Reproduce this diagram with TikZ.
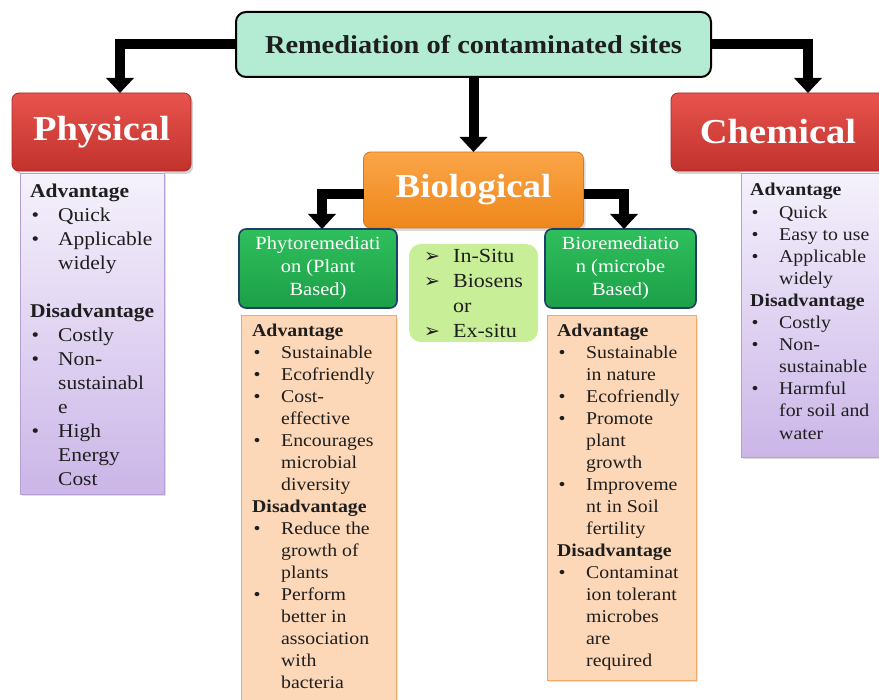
\documentclass[tikz,border=0pt]{standalone}
\usepackage{fontspec}
\setmainfont{Liberation Serif}[FakeStretch=1.1]
\newfontfamily\symfont{DejaVu Sans}
\usetikzlibrary{arrows.meta,shadows}

\definecolor{ink}{HTML}{1E1E1E}
\definecolor{mint}{HTML}{B3ECD2}
\definecolor{redTop}{HTML}{E8534D}
\definecolor{redBot}{HTML}{C2322D}
\definecolor{redEdge}{HTML}{A52A26}
\definecolor{orgTop}{HTML}{FAA548}
\definecolor{orgBot}{HTML}{EF871B}
\definecolor{orgEdge}{HTML}{D8781A}
\definecolor{grnTop}{HTML}{2FBF5C}
\definecolor{grnBot}{HTML}{1C9F48}
\definecolor{grnEdge}{HTML}{1F3F6B}
\definecolor{peach}{HTML}{FDD8B8}
\definecolor{peachEdge}{HTML}{F2A866}
\definecolor{lavTop}{HTML}{F5F1FC}
\definecolor{lavBot}{HTML}{CBB6E8}
\definecolor{lavEdge}{HTML}{B49FD6}
\definecolor{lime}{HTML}{C8EF98}

% list helpers for the advantage / disadvantage panels
\newcommand{\hd}[1]{\multicolumn{2}{@{}l@{}}{\bfseries #1}}
\newcommand{\bu}{\hspace{1.5pt}\textbullet}
\newcommand{\arw}{{\symfont\fontsize{19}{19}\selectfont ➢}}

\tikzset{
  panel/.style={inner sep=0pt, outer sep=0pt},
  titlebox/.style={panel, draw=black, line width=2pt, fill=mint, rounded corners=10pt,
    font=\bfseries\fontsize{25.8}{30}\selectfont, text=ink},
  redbox/.style={panel, draw=redEdge, line width=0.8pt, top color=redTop, bottom color=redBot,
    rounded corners=7pt, text=white, font=\bfseries\fontsize{35}{40}\selectfont,
    drop shadow={opacity=0.35, shadow xshift=2pt, shadow yshift=-3pt}},
  orangebox/.style={panel, draw=orgEdge, line width=0.8pt, top color=orgTop, bottom color=orgBot,
    rounded corners=7pt, text=white, font=\bfseries\fontsize{33.5}{38}\selectfont,
    drop shadow={opacity=0.3, shadow xshift=2pt, shadow yshift=-3pt}},
  greenbox/.style={panel, draw=grnEdge, line width=1.6pt, top color=grnTop, bottom color=grnBot,
    rounded corners=7pt, text=white, align=center, font=\fontsize{18.6}{23}\selectfont},
  lavbox/.style={panel, draw=lavEdge, line width=0.9pt, top color=lavTop, bottom color=lavBot,
    drop shadow={opacity=0.25, shadow xshift=1.5pt, shadow yshift=-2pt}},
  peachbox/.style={panel, draw=peachEdge, line width=1pt, fill=peach,
    drop shadow={opacity=0.2, shadow xshift=1.5pt, shadow yshift=-2pt}},
  limebox/.style={panel, fill=lime, rounded corners=12pt},
  listtxt/.style={inner sep=0pt, anchor=base west, text=ink},
  bigarrow/.style={line width=10pt, black, -{Triangle[width=27pt,length=15pt]}},
}

\begin{document}
\begin{tikzpicture}[x=1pt,y=-1pt]
\useasboundingbox (0,0) rectangle (879,700);
\clip (0,0) rectangle (879,700);

% heading and the three families of methods
\node[titlebox, minimum width=475pt, minimum height=65pt] (top) at (473.5,44.5)
  {Remediation of contaminated sites};
\node[redbox, minimum width=179pt, minimum height=78pt] (phys) at (101.5,132) {Physical};
\node[redbox, minimum width=214pt, minimum height=78pt] (chem) at (778,132) {Chemical};
\node[orangebox, minimum width=220pt, minimum height=76pt] (bio) at (473.5,190) {Biological};

% biological sub-branches
\node[greenbox, minimum width=158pt, minimum height=79pt] (phyto) at (318,268.5)
  {Phytoremediati\\on (Plant\\Based)};
\node[greenbox, minimum width=151pt, minimum height=79pt] (micro) at (620.5,268.5)
  {Bioremediatio\\n (microbe\\Based)};
\node[limebox, minimum width=129pt, minimum height=98pt] (site) at (473.5,293) {};

% panels
\node[lavbox, minimum width=144pt, minimum height=321pt] (physPanel) at (92,333.5) {};
\node[lavbox, minimum width=144pt, minimum height=284pt] (chemPanel) at (813,315) {};
\node[peachbox, minimum width=155pt, minimum height=400pt] (phytoPanel) at (318.5,516) {};
\node[peachbox, minimum width=149pt, minimum height=364pt] (microPanel) at (621.5,498) {};

% connectors
\draw[bigarrow] (top.west) -| ([xshift=18.5pt]phys.north);
\draw[bigarrow] (top.east) -| ([xshift=30pt]chem.north);
\draw[bigarrow] (top) -- (bio);
\draw[bigarrow] ([yshift=-4pt]bio.west) -| ([xshift=4pt]phyto.north);
\draw[bigarrow] ([yshift=-4pt]bio.east) -| ([xshift=3.5pt]micro.north);

% panel texts
\node[listtxt, font=\fontsize{19.5}{24}\selectfont] (physTxt) at (30,198)
{\begin{tabular}[t]{@{}p{28pt}@{}l@{}}
\hd{Advantage}\\
\bu & Quick\\
\bu & Applicable\\
    & widely\\
    & \\
\hd{Disadvantage}\\
\bu & Costly\\
\bu & Non-\\
    & sustainabl\\
    & e\\
\bu & High\\
    & Energy\\
    & Cost
\end{tabular}};

\node[listtxt, font=\fontsize{18}{22.1}\selectfont] (chemTxt) at (750,196)
{\begin{tabular}[t]{@{}p{29pt}@{}l@{}}
\hd{Advantage}\\
\bu & Quick\\
\bu & Easy to use\\
\bu & Applicable\\
    & widely\\
\hd{Disadvantage}\\
\bu & Costly\\
\bu & Non-\\
    & sustainable\\
\bu & Harmful\\
    & for soil and\\
    & water
\end{tabular}};

\node[listtxt, font=\fontsize{18}{22}\selectfont] (phytoTxt) at (252,337)
{\begin{tabular}[t]{@{}p{29pt}@{}l@{}}
\hd{Advantage}\\
\bu & Sustainable\\
\bu & Ecofriendly\\
\bu & Cost-\\
    & effective\\
\bu & Encourages\\
    & microbial\\
    & diversity\\
\hd{Disadvantage}\\
\bu & Reduce the\\
    & growth of\\
    & plants\\
\bu & Perform\\
    & better in\\
    & association\\
    & with\\
    & bacteria
\end{tabular}};

\node[listtxt, font=\fontsize{18}{22}\selectfont] (microTxt) at (557,337)
{\begin{tabular}[t]{@{}p{29pt}@{}l@{}}
\hd{Advantage}\\
\bu & Sustainable\\
    & in nature\\
\bu & Ecofriendly\\
\bu & Promote\\
    & plant\\
    & growth\\
\bu & Improveme\\
    & nt in Soil\\
    & fertility\\
\hd{Disadvantage}\\
\bu & Contaminat\\
    & ion tolerant\\
    & microbes\\
    & are\\
    & required
\end{tabular}};

\node[listtxt, font=\fontsize{20}{25}\selectfont] (siteTxt) at (424,263)
{\begin{tabular}[t]{@{}p{29pt}@{}l@{}}
\arw & In-Situ\\
\arw & Biosens\\
     & or\\
\arw & Ex-situ
\end{tabular}};
\end{tikzpicture}
\end{document}
